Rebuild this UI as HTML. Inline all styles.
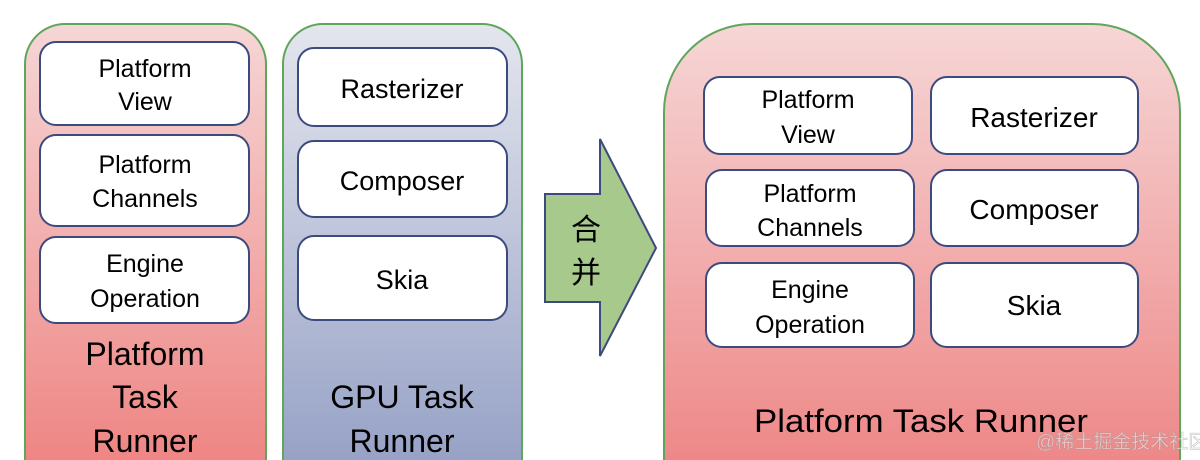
<!DOCTYPE html>
<html><head><meta charset="utf-8"><style>html,body{margin:0;padding:0;background:#fff;width:1200px;height:460px;overflow:hidden}svg{display:block}</style></head>
<body>
<svg width="1200" height="460" viewBox="0 0 1200 460" xmlns="http://www.w3.org/2000/svg" font-family="'Liberation Sans','Noto Sans CJK SC',sans-serif">
<defs>
<linearGradient id="pk" x1="0" y1="0" x2="0" y2="1"><stop offset="0" stop-color="#f6d6d6"/><stop offset="1" stop-color="#ee8684"/></linearGradient>
<linearGradient id="pk2" x1="0" y1="0" x2="0" y2="1"><stop offset="0" stop-color="#f6d6d6"/><stop offset="1" stop-color="#ee8888"/></linearGradient>
<linearGradient id="bl" x1="0" y1="0" x2="0" y2="1"><stop offset="0" stop-color="#e4e6ee"/><stop offset="1" stop-color="#97a2c6"/></linearGradient>
</defs>
<path d="M25,460 V64 A40,40 0 0 1 65,24 H226 A40,40 0 0 1 266,64 V460 Z" fill="url(#pk)"/>
<path d="M25,460 V64 A40,40 0 0 1 65,24 H226 A40,40 0 0 1 266,64 V460" fill="none" stroke="#5fa55a" stroke-width="2"/>
<path d="M283,460 V64 A40,40 0 0 1 323,24 H482 A40,40 0 0 1 522,64 V460 Z" fill="url(#bl)"/>
<path d="M283,460 V64 A40,40 0 0 1 323,24 H482 A40,40 0 0 1 522,64 V460" fill="none" stroke="#5fa55a" stroke-width="2"/>
<path d="M664,460 V112 A88,88 0 0 1 752,24 H1092 A88,88 0 0 1 1180,112 V460 Z" fill="url(#pk2)"/>
<path d="M664,460 V112 A88,88 0 0 1 752,24 H1092 A88,88 0 0 1 1180,112 V460" fill="none" stroke="#5fa55a" stroke-width="2"/>
<g fill="#fff" stroke="#3c4a7e" stroke-width="2">
<rect x="40" y="42" width="209" height="83" rx="16"/>
<rect x="40" y="135" width="209" height="91" rx="16"/>
<rect x="40" y="237" width="209" height="86" rx="16"/>
<rect x="298" y="48" width="209" height="78" rx="16"/>
<rect x="298" y="141" width="209" height="76" rx="16"/>
<rect x="298" y="236" width="209" height="84" rx="16"/>
<rect x="704" y="77" width="208" height="77" rx="16"/>
<rect x="706" y="170" width="208" height="76" rx="16"/>
<rect x="706" y="263" width="208" height="84" rx="16"/>
<rect x="931" y="77" width="207" height="77" rx="16"/>
<rect x="931" y="170" width="207" height="76" rx="16"/>
<rect x="931" y="263" width="207" height="84" rx="16"/>
</g>
<polygon points="545,194 600,194 600,139 656,248 600,356 600,302 545,302" fill="#a8c98c" stroke="#3c4a7e" stroke-width="2"/>
<g fill="#000" font-size="25" text-anchor="middle">
<text x="145" y="77">Platform</text><text x="145" y="110">View</text>
<text x="145" y="173">Platform</text><text x="145" y="207">Channels</text>
<text x="145" y="272">Engine</text><text x="145" y="307">Operation</text>
<text x="402" y="98" font-size="27">Rasterizer</text>
<text x="402" y="190" font-size="27">Composer</text>
<text x="402" y="289" font-size="27">Skia</text>
<text x="808" y="108">Platform</text><text x="808" y="143">View</text>
<text x="810" y="202">Platform</text><text x="810" y="236">Channels</text>
<text x="810" y="298">Engine</text><text x="810" y="333">Operation</text>
<text x="1034" y="127" font-size="28">Rasterizer</text>
<text x="1034" y="219" font-size="28">Composer</text>
<text x="1034" y="315" font-size="28">Skia</text>
<g font-size="32">
<text x="145" y="365">Platform</text><text x="145" y="408">Task</text><text x="145" y="452">Runner</text>
<text x="402" y="408">GPU Task</text><text x="402" y="452">Runner</text>
<text x="921" y="432" textLength="334" lengthAdjust="spacingAndGlyphs">Platform Task Runner</text>
</g>
<text x="586" y="240" font-size="30">合</text>
<text x="586" y="283" font-size="30">并</text>
</g>
<text x="1036" y="448" font-size="19" fill="#ffffff" fill-opacity="0.55" stroke="#888" stroke-width="0.5" stroke-opacity="0.6">@稀土掘金技术社区</text>
</svg>
</body></html>
